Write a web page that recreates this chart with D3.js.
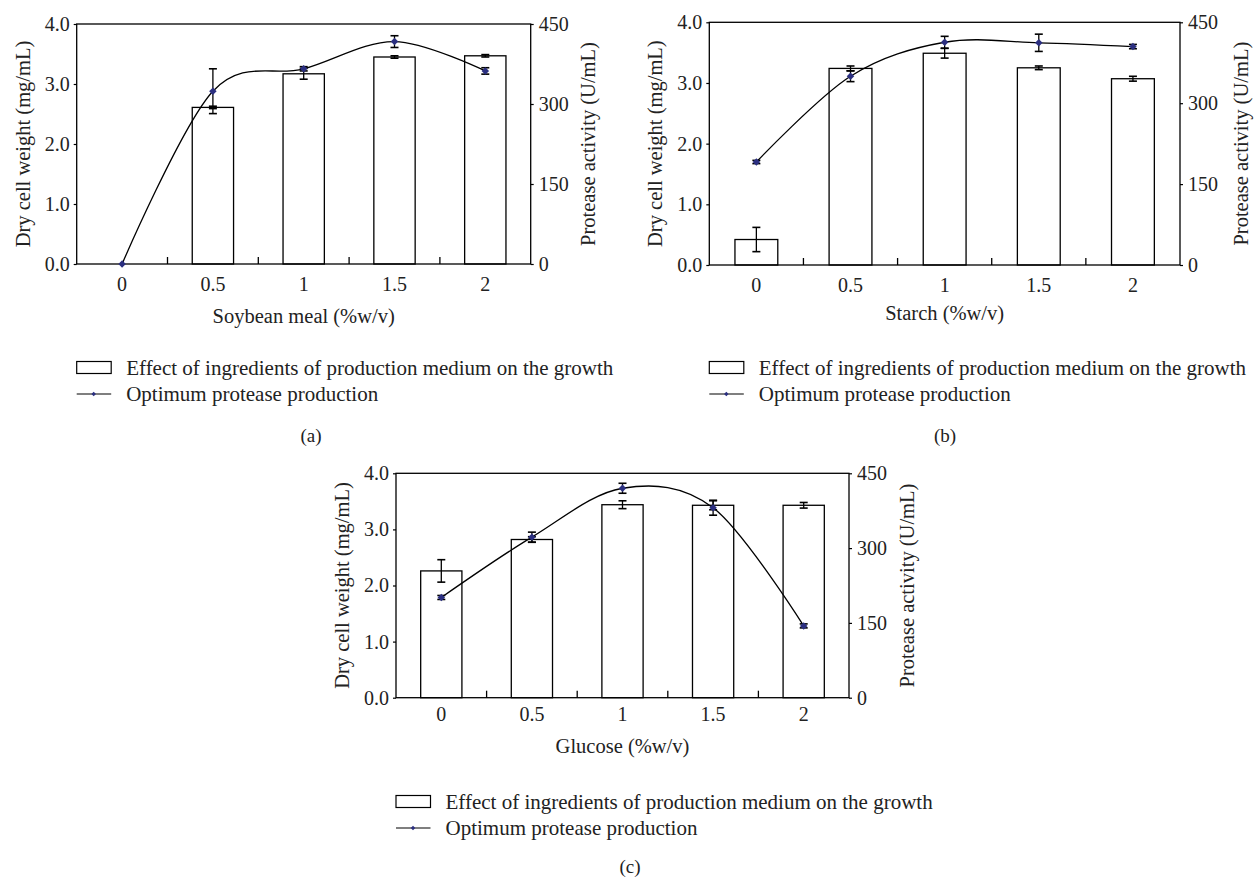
<!DOCTYPE html>
<html>
<head>
<meta charset="utf-8">
<script src="https://cdn.jsdelivr.net/npm/d3@7"></script>
<style>
  html, body { margin: 0; padding: 0; background: #fff; }
  svg { display: block; font-family: "Liberation Serif", "Times New Roman", serif; }
</style>
</head>
<body>
<svg id="chart" width="1254" height="878"></svg>
<script>
// ---------- data ----------
const categories = ["0", "0.5", "1", "1.5", "2"];
const leftTicks = [0, 1, 2, 3, 4];
const rightTicks = [0, 150, 300, 450];

// (a) Soybean meal
const soyDcw = [0, 2.61, 3.17, 3.45, 3.47];
const soyDcwErr = [0, 0.02, 0.09, 0.02, 0.02];
const soyProt = [0, 324, 366, 417, 362];
const soyProtErr = [0, 42, 4, 11, 6];

// (b) Starch
const starchDcw = [0.42, 3.24, 3.49, 3.25, 3.07];
const starchDcwErr = [0.2, 0.04, 0.08, 0.03, 0.04];
const starchProt = [191, 350, 413, 412, 405];
const starchProtErr = [3, 10, 11, 16, 4];

// (c) Glucose
const glucDcw = [2.26, 2.82, 3.44, 3.43, 3.43];
const glucDcwErr = [0.2, 0.05, 0.07, 0.08, 0.05];
const glucProt = [201, 322, 420, 381, 144];
const glucProtErr = [4, 10, 10, 15, 4];

const legendBarLabel = "Effect of ingredients of production medium on the growth";
const legendLineLabel = "Optimum protease production";
const leftTitle = "Dry cell weight (mg/mL)";
const rightTitle = "Protease activity (U/mL)";

const panels = [
  { xTitle: "Soybean meal (%w/v)", dcw: soyDcw, dcwErr: soyDcwErr, prot: soyProt, protErr: soyProtErr,
    caption: "(a)", box: { l: 76.7, r: 530.7, t: 24, b: 264 }, tickDy: 20, titleY: 316,
    leftTitleX: 23, rightTitleX: 588, legendY: 367.5, captionX: 311, captionY: 435 },
  { xTitle: "Starch (%w/v)", dcw: starchDcw, dcwErr: starchDcwErr, prot: starchProt, protErr: starchProtErr,
    caption: "(b)", box: { l: 709.3, r: 1180, t: 22.3, b: 265 }, tickDy: 20, titleY: 313,
    leftTitleX: 655, rightTitleX: 1241, legendY: 367.5, captionX: 945, captionY: 435 },
  { xTitle: "Glucose (%w/v)", dcw: glucDcw, dcwErr: glucDcwErr, prot: glucProt, protErr: glucProtErr,
    caption: "(c)", box: { l: 396, r: 849, t: 473.3, b: 697.7 }, tickDy: 16, titleY: 746,
    leftTitleX: 341.7, rightTitleX: 906.7, legendY: 801.5, captionX: 630, captionY: 866 }
];

const svg = d3.select("#chart");
const markerColor = "#2b2f80";
const tickFont = 20, titleFont = 20.5, legendFont = 21, captionFont = 19;

panels.forEach(p => {
  const g = svg.append("g");
  const B = p.box;
  const pad = 0.545;
  const x = d3.scaleBand().domain(categories).range([B.l, B.r])
    .paddingInner(pad).paddingOuter(pad / 2);
  const yL = d3.scaleLinear().domain([0, 4]).range([B.b, B.t]);
  const yR = d3.scaleLinear().domain([0, 450]).range([B.b, B.t]);
  const cx = c => x(c) + x.bandwidth() / 2;

  // bars
  g.selectAll("rect.bar").data(categories.map((c, i) => ({ c, v: p.dcw[i], e: p.dcwErr[i] })))
    .join("rect")
    .attr("x", d => x(d.c)).attr("width", x.bandwidth())
    .attr("y", d => yL(d.v)).attr("height", d => yL(0) - yL(d.v))
    .attr("fill", "#fff").attr("stroke", "#000").attr("stroke-width", 1.3)
    .attr("display", d => d.v > 0 ? null : "none");

  // bar error bars
  const capW = 4;
  const barErr = g.selectAll("g.berr").data(categories.map((c, i) => ({ c, v: p.dcw[i], e: p.dcwErr[i] })).filter(d => d.v > 0))
    .join("g");
  barErr.append("line").attr("x1", d => cx(d.c)).attr("x2", d => cx(d.c))
    .attr("y1", d => yL(d.v - d.e)).attr("y2", d => yL(d.v + d.e)).attr("stroke", "#000").attr("stroke-width", 1.3);
  [-1, 1].forEach(s => barErr.append("line")
    .attr("x1", d => cx(d.c) - capW).attr("x2", d => cx(d.c) + capW)
    .attr("y1", d => yL(d.v + s * d.e)).attr("y2", d => yL(d.v + s * d.e))
    .attr("stroke", "#000").attr("stroke-width", 1.6));

  // frame
  g.append("rect").attr("x", B.l).attr("y", B.t).attr("width", B.r - B.l).attr("height", B.b - B.t)
    .attr("fill", "none").attr("stroke", "#000").attr("stroke-width", 1.3);

  // inward x ticks between categories
  const bounds = categories.slice(1).map(c => x(c) - x.step() * x.paddingInner() / 2);
  g.selectAll("line.xt").data(bounds).join("line")
    .attr("x1", d => d).attr("x2", d => d).attr("y1", B.b).attr("y2", B.b - 7)
    .attr("stroke", "#000").attr("stroke-width", 1.3);

  // x tick labels
  const xAxis = d3.axisBottom(x).tickSize(0).tickPadding(0);
  const xg = g.append("g").attr("transform", `translate(0,${B.b})`).call(xAxis);
  xg.select(".domain").remove();
  xg.selectAll("text").attr("font-size", tickFont).attr("font-family", "Liberation Serif")
    .attr("fill", "#222").attr("y", p.tickDy).attr("dy", "0.35em");

  // left axis
  const lg = g.append("g").attr("transform", `translate(${B.l},0)`)
    .call(d3.axisLeft(yL).tickValues(leftTicks).tickFormat(d3.format(".1f")).tickSize(3).tickPadding(4));
  lg.select(".domain").remove();
  lg.selectAll("text").attr("font-size", tickFont).attr("font-family", "Liberation Serif").attr("fill", "#222");
  lg.selectAll("line").attr("stroke-width", 1.2);

  // right axis
  const rg = g.append("g").attr("transform", `translate(${B.r},0)`)
    .call(d3.axisRight(yR).tickValues(rightTicks).tickSize(3).tickPadding(5));
  rg.select(".domain").remove();
  rg.selectAll("text").attr("font-size", tickFont).attr("font-family", "Liberation Serif").attr("fill", "#222");
  rg.selectAll("line").attr("stroke-width", 1.2);

  // titles
  g.append("text").attr("x", (B.l + B.r) / 2).attr("y", p.titleY).attr("dy", "0.35em")
    .attr("text-anchor", "middle").attr("font-size", titleFont).attr("fill", "#222").text(p.xTitle);
  g.append("text").attr("transform", `translate(${p.leftTitleX},${(B.t + B.b) / 2}) rotate(-90)`)
    .attr("dy", "0.35em").attr("text-anchor", "middle").attr("font-size", titleFont).attr("fill", "#222").text(leftTitle);
  g.append("text").attr("transform", `translate(${p.rightTitleX},${(B.t + B.b) / 2}) rotate(-90)`)
    .attr("dy", "0.35em").attr("text-anchor", "middle").attr("font-size", titleFont).attr("fill", "#222").text(rightTitle);

  // protease line
  const pts = categories.map((c, i) => ({ c, v: p.prot[i], e: p.protErr[i] }));
  const line = d3.line().x(d => cx(d.c)).y(d => yR(d.v)).curve(d3.curveCardinal.tension(0));
  g.append("path").attr("d", line(pts)).attr("fill", "none").attr("stroke", "#000").attr("stroke-width", 1.3);

  // protease error bars
  const pe = g.selectAll("g.perr").data(pts.filter(d => d.e > 0)).join("g");
  pe.append("line").attr("x1", d => cx(d.c)).attr("x2", d => cx(d.c))
    .attr("y1", d => yR(d.v - d.e)).attr("y2", d => yR(d.v + d.e)).attr("stroke", "#000").attr("stroke-width", 1.3);
  [-1, 1].forEach(s => pe.append("line")
    .attr("x1", d => cx(d.c) - capW).attr("x2", d => cx(d.c) + capW)
    .attr("y1", d => yR(d.v + s * d.e)).attr("y2", d => yR(d.v + s * d.e))
    .attr("stroke", "#000").attr("stroke-width", 1.6));

  // markers
  const sym = d3.symbol().type(d3.symbolSquare).size(28);
  g.selectAll("path.mk").data(pts).join("path")
    .attr("transform", d => `translate(${cx(d.c)},${yR(d.v)}) rotate(45)`)
    .attr("d", sym).attr("fill", markerColor);

  // legend
  const lx = B.l, ly = p.legendY;
  g.append("rect").attr("x", lx).attr("y", ly - 6).attr("width", 34.5).attr("height", 12)
    .attr("fill", "#fff").attr("stroke", "#000").attr("stroke-width", 1.2);
  g.append("text").attr("x", lx + 49.5).attr("y", ly).attr("dy", "0.35em")
    .attr("font-size", legendFont).attr("fill", "#222").text(legendBarLabel);
  g.append("line").attr("x1", lx).attr("x2", lx + 34.5).attr("y1", ly + 26.5).attr("y2", ly + 26.5)
    .attr("stroke", "#000").attr("stroke-width", 1.2);
  g.append("path").attr("transform", `translate(${lx + 17},${ly + 26.5}) rotate(45)`)
    .attr("d", d3.symbol().type(d3.symbolSquare).size(10)).attr("fill", markerColor);
  g.append("text").attr("x", lx + 49.5).attr("y", ly + 26.5).attr("dy", "0.35em")
    .attr("font-size", legendFont).attr("fill", "#222").text(legendLineLabel);

  // caption
  g.append("text").attr("x", p.captionX).attr("y", p.captionY).attr("dy", "0.35em")
    .attr("text-anchor", "middle").attr("font-size", captionFont).attr("fill", "#222").text(p.caption);
});
</script>
</body>
</html>
